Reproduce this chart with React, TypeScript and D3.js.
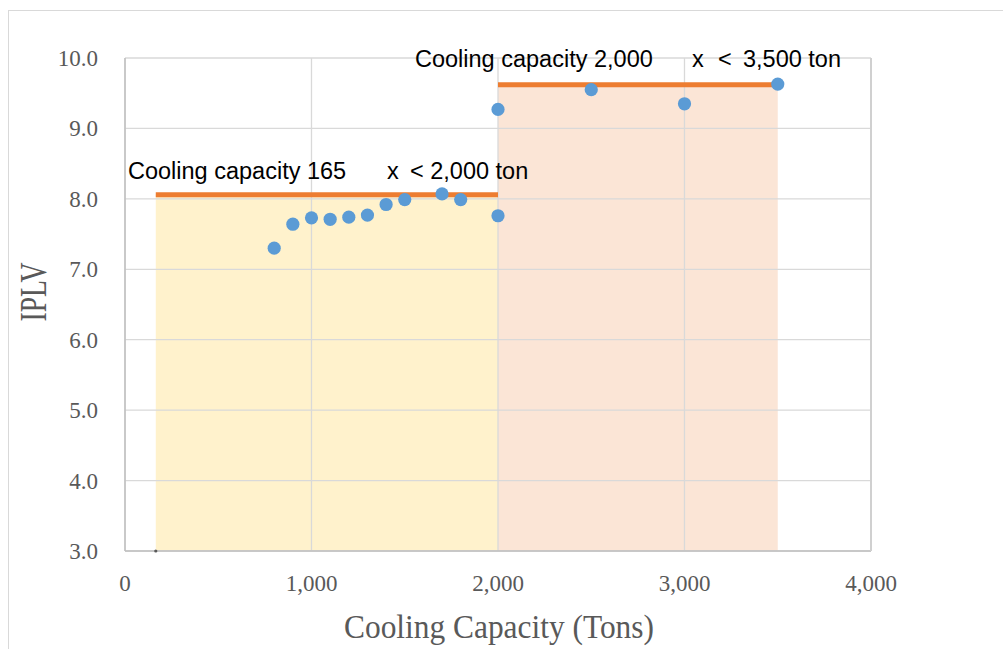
import React from "react";
import * as d3 from "d3";

const capacity = [800, 900, 1000, 1100, 1200, 1300, 1400, 1500, 1700, 1800, 2000, 2000, 2500, 3000, 3500];
const iplv = [7.3, 7.64, 7.73, 7.71, 7.74, 7.77, 7.92, 7.99, 8.07, 7.99, 7.76, 9.27, 9.55, 9.35, 9.63];

const rangeStart = [165, 2000];
const rangeEnd = [2000, 3500];
const rangeIplv = [8.06, 9.62];
const rangeFill = ["#fff2cc", "#fbe5d6"];

const xTicks = [0, 1000, 2000, 3000, 4000];
const yTicks = [3, 4, 5, 6, 7, 8, 9, 10];

const W = 1003;
const H = 649;
const L = 125, R = 871, T = 58, B = 551;

export default function App() {
  const x = d3.scaleLinear().domain([0, 4000]).range([L, R]);
  const y = d3.scaleLinear().domain([3, 10]).range([B, T]);
  const fmtX = d3.format(",");
  const fmtY = d3.format(".1f");
  const serif = "'Liberation Serif', 'Times New Roman', serif";
  const sans = "'Liberation Sans', Arial, sans-serif";
  const axisColor = "#595959";

  return (
    <svg width={W} height={H} style={{ position: "absolute", left: 0, top: 0, background: "#fff" }}>
      <rect x={8.5} y={10.5} width={1000} height={700} fill="#fff" stroke="#d9d9d9" />
      {rangeStart.map((s, i) => (
        <rect key={"f" + i} x={x(s)} y={y(rangeIplv[i])} width={x(rangeEnd[i]) - x(s)} height={B - y(rangeIplv[i])} fill={rangeFill[i]} />
      ))}
      {yTicks.map((t) => (
        <line key={"gy" + t} x1={L} x2={R} y1={y(t)} y2={y(t)} stroke="#d9d9d9" strokeWidth={1.3} />
      ))}
      {xTicks.map((t) => (
        <line key={"gx" + t} x1={x(t)} x2={x(t)} y1={T} y2={B} stroke="#d9d9d9" strokeWidth={1.3} />
      ))}
      <line x1={L} x2={L} y1={T} y2={B} stroke="#bfbfbf" strokeWidth={1.5} />
      <line x1={L} x2={R} y1={B} y2={B} stroke="#bfbfbf" strokeWidth={1.5} />
      <line x1={R} x2={R} y1={T} y2={B} stroke="#d0d0d0" strokeWidth={2} />
      {rangeStart.map((s, i) => (
        <line key={"o" + i} x1={x(s)} x2={x(rangeEnd[i])} y1={y(rangeIplv[i])} y2={y(rangeIplv[i])} stroke="#ed7d31" strokeWidth={5} />
      ))}
      <circle cx={x(rangeStart[0])} cy={y(3)} r={1.6} fill="#595959" />
      {capacity.map((c, i) => (
        <circle key={"p" + i} cx={x(c)} cy={y(iplv[i])} r={6.6} fill="#5b9bd5" />
      ))}
      {yTicks.map((t) => (
        <text key={"ty" + t} x={98} y={y(t)} dy="0.35em" textAnchor="end" fontFamily={serif} fontSize={23} fill={axisColor}>
          {fmtY(t)}
        </text>
      ))}
      {xTicks.map((t) => (
        <text key={"tx" + t} x={x(t)} y={591} textAnchor="middle" fontFamily={serif} fontSize={23} fill={axisColor}>
          {fmtX(t)}
        </text>
      ))}
      <text x={(L + R) / 2 + 1} y={638} textAnchor="middle" fontFamily={serif} fontSize={34} fill={axisColor} textLength={310} lengthAdjust="spacingAndGlyphs">
        Cooling Capacity (Tons)
      </text>
      <text transform="translate(46,292) rotate(-90)" textAnchor="middle" fontFamily={serif} fontSize={37} fill={axisColor} textLength={59} lengthAdjust="spacingAndGlyphs">
        IPLV
      </text>
      <text y={179} fontFamily={sans} fontSize={23.5} fill="#000">
        <tspan x={128}>Cooling capacity 165</tspan>
        <tspan x={387}>x</tspan>
        <tspan x={410}>&lt; 2,000 ton</tspan>
      </text>
      <text y={67} fontFamily={sans} fontSize={23.5} fill="#000">
        <tspan x={415}>Cooling capacity 2,000</tspan>
        <tspan x={692}>x</tspan>
        <tspan x={718}>&lt;</tspan>
        <tspan x={743}>3,500 ton</tspan>
      </text>
    </svg>
  );
}
